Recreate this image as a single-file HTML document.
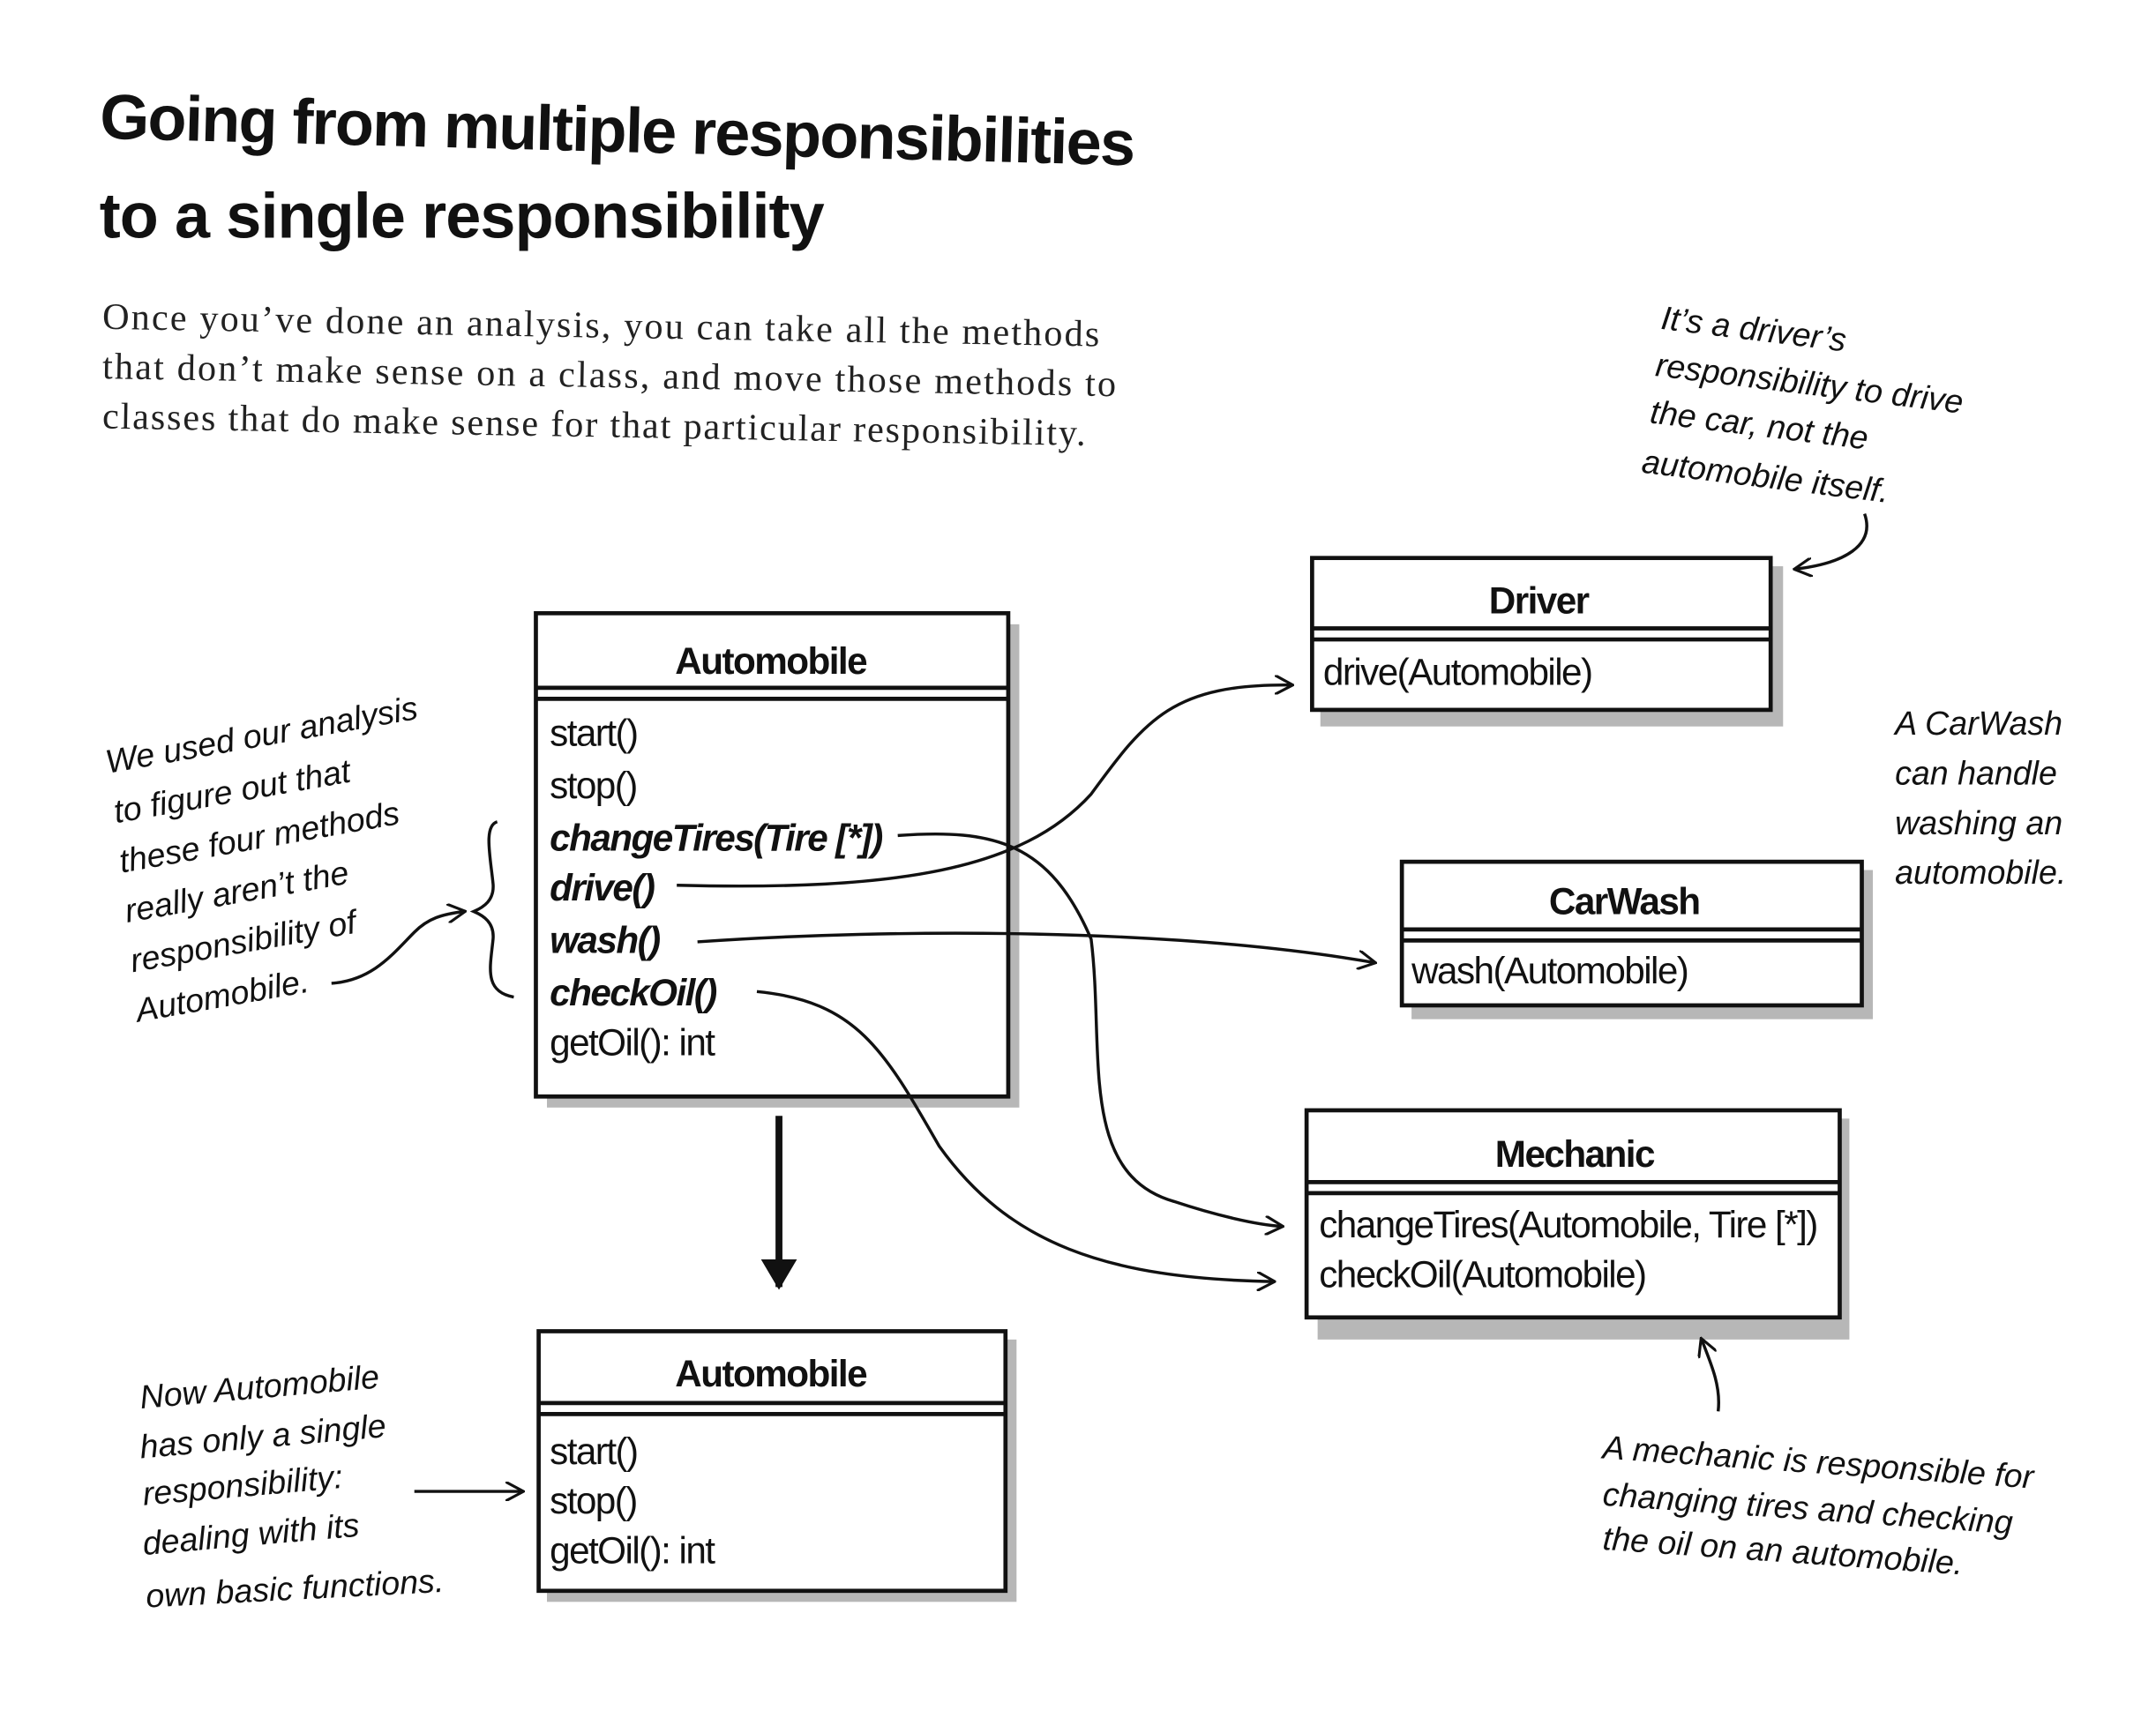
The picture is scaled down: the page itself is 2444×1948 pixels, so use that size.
<!DOCTYPE html>
<html><head><meta charset="utf-8">
<style>
html,body{margin:0;padding:0;background:#fff;}
svg{display:block}
.t{font-family:"Liberation Sans",sans-serif;font-weight:bold;font-size:46px;fill:#111}
.b{font-family:"Liberation Serif",serif;font-size:27px;fill:#222}
.h{font-family:"Liberation Sans",sans-serif;font-size:24px;fill:#111;font-style:italic}
.m{font-family:"Liberation Sans",sans-serif;font-size:27px;fill:#111;letter-spacing:-1px}
.mb{font-family:"Liberation Sans",sans-serif;font-size:27px;fill:#111;font-weight:bold;font-style:italic;letter-spacing:-1px}
.hd{font-family:"Liberation Sans",sans-serif;font-size:27px;fill:#111;font-weight:bold;letter-spacing:-1px}
</style></head>
<body>
<svg width="2444" height="1948" viewBox="0 0 1561 1244" xmlns="http://www.w3.org/2000/svg">
<defs>
<marker id="a" markerWidth="14" markerHeight="14" refX="12" refY="7" orient="auto" markerUnits="userSpaceOnUse"><path d="M0,0 L13,7 L0,14" fill="none" stroke="#111" stroke-width="2"/></marker>
<marker id="af" markerWidth="22" markerHeight="26" refX="20" refY="13" orient="auto" markerUnits="userSpaceOnUse"><path d="M0,0 L22,13 L0,26 Z" fill="#111"/></marker>
</defs>
<text class="t" x="72" y="100" transform="rotate(1.5 72 100)" textLength="750">Going from multiple responsibilities</text>
<text class="t" x="72" y="172" textLength="525">to a single responsibility</text>
<text class="b" x="74" y="238" textLength="722" transform="rotate(1 74 238)">Once you’ve done an analysis, you can take all the methods</text>
<text class="b" x="74" y="274" textLength="734" transform="rotate(1 74 274)">that don’t make sense on a class, and move those methods to</text>
<text class="b" x="74" y="310" textLength="712" transform="rotate(1 74 310)">classes that do make sense for that particular responsibility.</text>

<g fill="#999" opacity="0.7">
<rect x="396" y="452" width="342" height="350"/>
<rect x="396" y="970" width="340" height="190"/>
<rect x="956" y="410" width="335" height="116"/>
<rect x="1022" y="630" width="334" height="108"/>
<rect x="954" y="810" width="385" height="160"/>
</g>
<g fill="#fff" stroke="#111" stroke-width="3">
<rect x="388" y="444" width="342" height="350"/>
<rect x="390" y="964" width="338" height="188"/>
<rect x="950" y="404" width="332" height="110"/>
<rect x="1015" y="624" width="333" height="104"/>
<rect x="946" y="804" width="386" height="150"/>
</g>
<g stroke="#111" stroke-width="3">
<line x1="388" y1="498" x2="730" y2="498"/><line x1="388" y1="506" x2="730" y2="506"/>
<line x1="390" y1="1016" x2="728" y2="1016"/><line x1="390" y1="1024" x2="728" y2="1024"/>
<line x1="950" y1="455" x2="1282" y2="455"/><line x1="950" y1="463" x2="1282" y2="463"/>
<line x1="1015" y1="673" x2="1348" y2="673"/><line x1="1015" y1="681" x2="1348" y2="681"/>
<line x1="946" y1="856" x2="1332" y2="856"/><line x1="946" y1="864" x2="1332" y2="864"/>
</g>
<text class="hd" x="558" y="488" text-anchor="middle">Automobile</text>
<text class="m" x="398" y="540">start()</text>
<text class="m" x="398" y="578">stop()</text>
<text class="mb" x="398" y="616">changeTires(Tire [*])</text>
<text class="mb" x="398" y="652">drive()</text>
<text class="mb" x="398" y="690">wash()</text>
<text class="mb" x="398" y="728">checkOil()</text>
<text class="m" x="398" y="764">getOil(): int</text>

<text class="hd" x="558" y="1004" text-anchor="middle">Automobile</text>
<text class="m" x="398" y="1060">start()</text>
<text class="m" x="398" y="1096">stop()</text>
<text class="m" x="398" y="1132">getOil(): int</text>

<text class="hd" x="1114" y="444" text-anchor="middle">Driver</text>
<text class="m" x="958" y="496">drive(Automobile)</text>
<text class="hd" x="1176" y="662" text-anchor="middle">CarWash</text>
<text class="m" x="1022" y="712">wash(Automobile)</text>
<text class="hd" x="1140" y="845" text-anchor="middle">Mechanic</text>
<text class="m" x="955" y="896">changeTires(Automobile, Tire [*])</text>
<text class="m" x="955" y="932">checkOil(Automobile)</text>

<g fill="none" stroke="#111" stroke-width="2.2">
<path d="M490,641 C650,645 740,630 790,575 C830,520 850,495 935,496" marker-end="url(#a)"/>
<path d="M650,605 C720,600 760,610 790,680 C800,760 780,850 850,870 C880,880 910,887 928,888" marker-end="url(#a)"/>
<path d="M505,682 C650,672 850,672 995,697" marker-end="url(#a)"/>
<path d="M548,718 C620,725 640,760 680,830 C730,900 800,926 922,928" marker-end="url(#a)"/>
<path d="M360,595 C350,598 355,620 357,640 C358,652 350,657 343,660 C350,663 358,668 357,680 C355,700 350,718 372,722"/>
<path d="M240,712 C270,710 285,690 300,675 C310,665 320,662 336,660" marker-end="url(#a)"/>
<path d="M300,1080 L378,1080" marker-end="url(#a)"/>
<path d="M1350,372 C1358,395 1335,408 1300,412" marker-end="url(#a)"/>
<path d="M1244,1022 C1246,1005 1240,990 1232,970" marker-end="url(#a)"/>
</g>
<line x1="564" y1="808" x2="564" y2="932" stroke="#111" stroke-width="5" marker-end="url(#af)"/>

<g class="h">
<text x="78" y="560" transform="rotate(-10 78 560)">We used our analysis</text>
<text x="84" y="596" transform="rotate(-10 84 596)">to figure out that</text>
<text x="88" y="632" transform="rotate(-10 88 632)">these four methods</text>
<text x="92" y="668" transform="rotate(-10 92 668)">really aren’t the</text>
<text x="96" y="704" transform="rotate(-10 96 704)">responsibility of</text>
<text x="100" y="740" transform="rotate(-10 100 740)">Automobile.</text>

<text x="102" y="1020" transform="rotate(-5 102 1020)">Now Automobile</text>
<text x="102" y="1056" transform="rotate(-5 102 1056)">has only a single</text>
<text x="104" y="1090" transform="rotate(-5 104 1090)">responsibility:</text>
<text x="104" y="1126" transform="rotate(-5 104 1126)">dealing with its</text>
<text x="106" y="1164" transform="rotate(-3 106 1164)">own basic functions.</text>

<text x="1202" y="238" transform="rotate(7 1202 238)">It’s a driver’s</text>
<text x="1198" y="272" transform="rotate(7 1198 272)">responsibility to drive</text>
<text x="1194" y="306" transform="rotate(7 1194 306)">the car, not the</text>
<text x="1188" y="342" transform="rotate(7 1188 342)">automobile itself.</text>

<text x="1372" y="532">A CarWash</text>
<text x="1372" y="568">can handle</text>
<text x="1372" y="604">washing an</text>
<text x="1372" y="640">automobile.</text>

<text x="1160" y="1056" transform="rotate(4 1160 1056)">A mechanic is responsible for</text>
<text x="1160" y="1090" transform="rotate(4 1160 1090)">changing tires and checking</text>
<text x="1160" y="1122" transform="rotate(4 1160 1122)">the oil on an automobile.</text>
</g>
</svg>
</body></html>
